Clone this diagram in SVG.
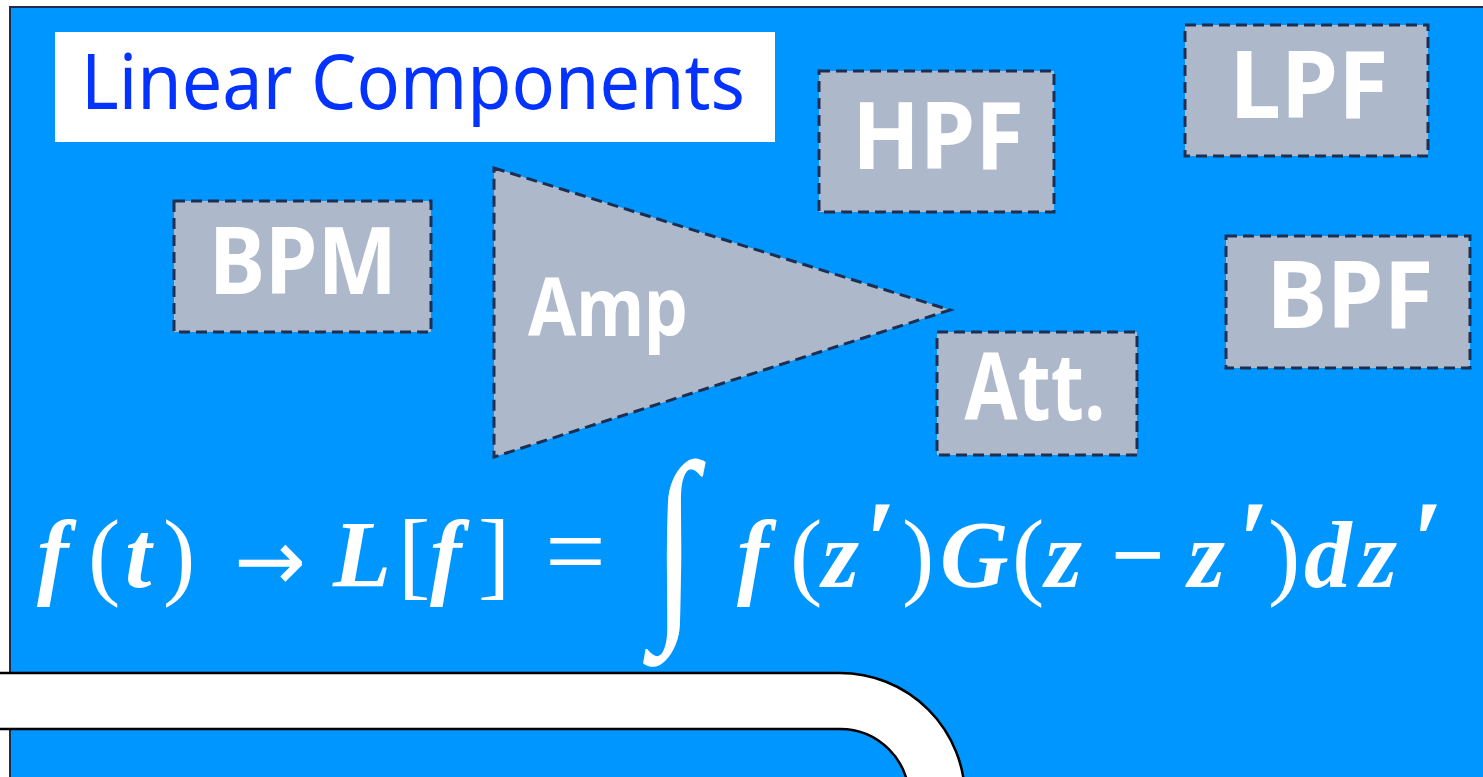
<svg xmlns="http://www.w3.org/2000/svg" width="1483" height="777" viewBox="0 0 1483 777">
  <defs>
    <style>
      .block { fill: #adb9ca; stroke: #1c2f52; stroke-width: 3; stroke-dasharray: 11 6; }
      .label { font-family: "Noto Sans", "Open Sans", "DejaVu Sans", sans-serif; font-weight: 700; fill: #ffffff; text-anchor: middle; }
      .math { font-family: "Liberation Serif", "DejaVu Serif", serif; fill: #ffffff; }
      .mi { font-style: italic; font-weight: 700; font-size: 95px; }
      .mo { font-style: normal; font-weight: 400; font-size: 97px; }
      .pr { font-style: italic; font-weight: 700; font-size: 112px; }
    </style>
  </defs>

  <!-- canvas -->
  <rect x="0" y="0" width="1483" height="777" fill="#ffffff"/>
  <rect id="panel" x="10" y="7" width="1500" height="800" fill="#0096ff" stroke="#1f2d4a" stroke-width="2"/>

  <!-- title -->
  <g id="title">
    <rect x="55" y="32" width="720" height="110" fill="#ffffff"/>
    <text x="81" y="109" font-family="Noto Sans, Open Sans, DejaVu Sans, sans-serif" font-size="76" fill="#0433ff" textLength="664" lengthAdjust="spacingAndGlyphs">Linear Components</text>
  </g>

  <!-- component blocks -->
  <g id="bpm">
    <rect class="block" x="174" y="201" width="257" height="131"/>
    <text class="label" x="303" y="294" style="font-size:93px" textLength="188" lengthAdjust="spacingAndGlyphs">BPM</text>
  </g>

  <g id="amp">
    <polygon class="block" points="494,168 950,310 494,457"/>
    <text class="label" x="608" y="336" style="font-size:81px" textLength="160" lengthAdjust="spacingAndGlyphs">Amp</text>
  </g>

  <g id="hpf">
    <rect class="block" x="819" y="71" width="235" height="141"/>
    <text class="label" x="938" y="169" style="font-size:93px" textLength="172" lengthAdjust="spacingAndGlyphs">HPF</text>
  </g>

  <g id="lpf">
    <rect class="block" x="1185" y="25" width="243" height="131"/>
    <text class="label" x="1309" y="118" style="font-size:93px" textLength="159" lengthAdjust="spacingAndGlyphs">LPF</text>
  </g>

  <g id="bpf">
    <rect class="block" x="1226" y="236" width="244" height="132"/>
    <text class="label" x="1350" y="328" style="font-size:93px" textLength="167" lengthAdjust="spacingAndGlyphs">BPF</text>
  </g>

  <g id="att">
    <rect class="block" x="937" y="332" width="200" height="123"/>
    <text class="label" x="1035" y="420" style="font-size:93px" textLength="141" lengthAdjust="spacingAndGlyphs">Att.</text>
  </g>

  <!-- linear response relation -->
  <g id="formula" class="math">
    <text class="mi" x="37" y="587">f</text>
    <text class="mo" x="88" y="587">(</text>
    <text class="mi" x="125" y="587">t</text>
    <text class="mo" x="163" y="587">)</text>
    <text class="mo" x="234" y="590" style="font-family:'DejaVu Sans',sans-serif;font-size:86px">→</text>
    <text class="mi" x="333" y="587">L</text>
    <text class="mo" x="398" y="587">[</text>
    <text class="mi" x="430" y="587">f</text>
    <text class="mo" x="478" y="587">]</text>
    <text class="mo" x="545" y="587" style="font-size:108px">=</text>
    <text class="mo" x="0" y="0" style="font-size:212px" transform="translate(652,610) scale(0.78,1)">∫</text>
    <text class="mi" x="737" y="587">f</text>
    <text class="mo" x="790" y="587">(</text>
    <text class="mi" x="822" y="587">z</text>
    <text class="pr" x="864" y="578">′</text>
    <text class="mo" x="902" y="587">)</text>
    <text class="mi" x="940" y="587">G</text>
    <text class="mo" x="1012" y="587">(</text>
    <text class="mi" x="1045" y="587">z</text>
    <text class="mi" x="1108" y="587">−</text>
    <text class="mi" x="1188" y="587">z</text>
    <text class="pr" x="1237" y="578">′</text>
    <text class="mo" x="1268" y="587">)</text>
    <text class="mi" x="1304" y="587">d</text>
    <text class="mi" x="1360" y="587">z</text>
    <text class="pr" x="1411" y="578">′</text>
  </g>

  <!-- beam pipe bend -->
  <g id="pipe">
    <path d="M -5 673 L 840 673 A 125 125 0 0 1 965 798 L 965 800 L 909 800 L 909 798 A 69 69 0 0 0 840 729 L -5 729 Z" fill="#ffffff" stroke="#000000" stroke-width="2.5"/>
  </g>
</svg>
